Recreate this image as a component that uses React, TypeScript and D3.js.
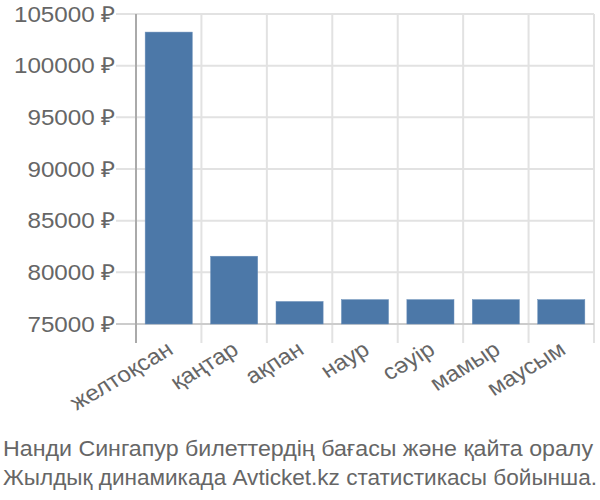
import React from 'react';
import * as d3 from 'd3';

const categories = ['желтоқсан', 'қаңтар', 'ақпан', 'наур', 'сәуір', 'мамыр', 'маусым'];
const prices = [103250, 81560, 77180, 77360, 77360, 77360, 77360];
const yTicks = [75000, 80000, 85000, 90000, 95000, 100000, 105000];
const captionLines = [
  'Нанди Сингапур билеттердің бағасы және қайта оралу',
  'Жылдық динамикада Avticket.kz статистикасы бойынша.',
];
const captionWidths = [590, 594];

// the picture looks slightly stretched sideways, so text gets a small x-scale
const SX = 1.1;

const App: React.FC = () => {
  const width = 600;
  const height = 500;
  const margin = { top: 14, right: 6, bottom: 176, left: 136 };
  const plotBottom = height - margin.bottom;
  const gridBottom = plotBottom + 19;

  const x = d3
    .scaleBand<string>()
    .domain(categories)
    .range([margin.left, width - margin.right])
    .padding(0);
  const y = d3
    .scaleLinear()
    .domain([75000, 105000])
    .range([plotBottom, margin.top]);

  const step = x.step();
  const barInset = step * 0.14;
  const barWidth = step - 2 * barInset;
  const font = '"Liberation Sans", Arial, sans-serif';
  const fmt = (v: number) => `${v} ₽`;

  return (
    <svg
      width={width}
      height={height}
      style={{ position: 'absolute', left: 0, top: 0, background: '#fff' }}
      fontFamily={font}
    >
      {/* vertical grid */}
      {[...categories.map(c => x(c)!), width - margin.right].map((gx, i) => (
        <line
          key={'vg' + i}
          x1={gx}
          x2={gx}
          y1={margin.top}
          y2={gridBottom}
          stroke="#e2e2e2"
          strokeWidth={2}
        />
      ))}
      {/* horizontal grid */}
      {yTicks.map(t => (
        <line
          key={'hg' + t}
          x1={116}
          x2={width - margin.right}
          y1={y(t)}
          y2={y(t)}
          stroke={t === 75000 ? '#cccccc' : '#e2e2e2'}
          strokeWidth={2}
        />
      ))}
      <line
        x1={margin.left}
        x2={margin.left}
        y1={margin.top}
        y2={gridBottom}
        stroke="#aaaaaa"
        strokeWidth={2}
      />
      {/* bars */}
      {categories.map((c, i) => (
        <rect
          key={'b' + c}
          x={x(c)! + barInset}
          y={y(prices[i])}
          width={barWidth}
          height={y(75000) - y(prices[i])}
          fill="#4c78a8"
          stroke="#6a8fba"
          strokeWidth={0.5}
        />
      ))}
      {/* y labels */}
      {yTicks.map(t => (
        <g key={'yl' + t} transform={`translate(115,${y(t)}) scale(${SX},1)`}>
          <text dy="0.35em" textAnchor="end" fontSize={22} fill="#666">
            {fmt(t)}
          </text>
        </g>
      ))}
      {/* x labels */}
      {categories.map(c => (
        <g
          key={'xl' + c}
          transform={`translate(${x(c)! + step / 2 + 6},${gridBottom + 10}) scale(${SX},1) rotate(-33)`}
        >
          <text textAnchor="end" fontSize={22} fill="#666">
            {c}
          </text>
        </g>
      ))}
      {/* caption */}
      {captionLines.map((line, i) => (
        <text
          key={'cap' + i}
          x={3}
          y={456 + i * 29}
          fontSize={22}
          fill="#666"
          textLength={captionWidths[i]}
          lengthAdjust="spacingAndGlyphs"
        >
          {line}
        </text>
      ))}
    </svg>
  );
};

export default App;
